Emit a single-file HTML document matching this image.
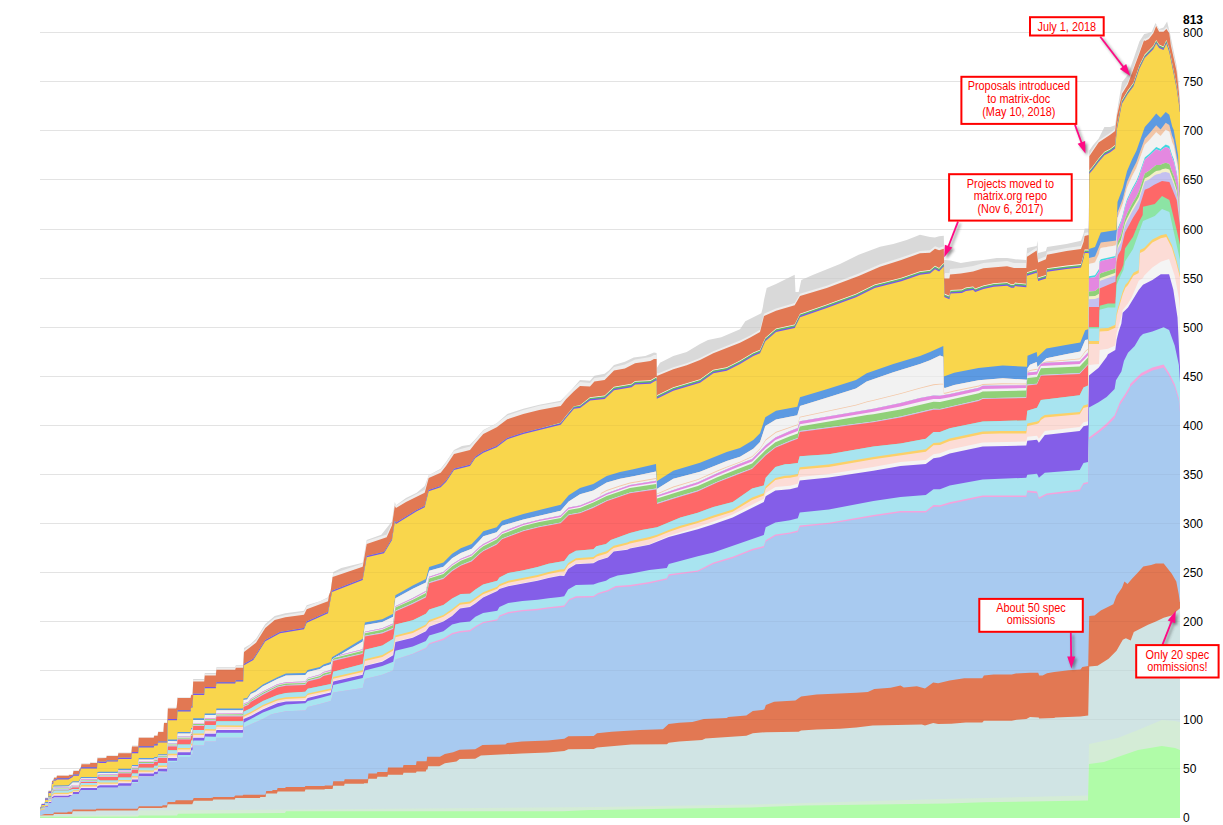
<!DOCTYPE html>
<html><head><meta charset="utf-8"><style>
html,body{margin:0;padding:0;background:#fff;}
body{width:1223px;height:825px;overflow:hidden;}
svg{display:block;}
text{font-family:"Liberation Sans",sans-serif;}
</style></head><body>
<svg width="1223" height="825" viewBox="0 0 1223 825" shape-rendering="crispEdges">
<rect width="1223" height="825" fill="#fff"/>
<g shape-rendering="geometricPrecision">
<rect x="40" y="768" width="1140" height="1" fill="#ececec"/>
<rect x="40" y="719" width="1140" height="1" fill="#ececec"/>
<rect x="40" y="670" width="1140" height="1" fill="#ececec"/>
<rect x="40" y="621" width="1140" height="1" fill="#ececec"/>
<rect x="40" y="572" width="1140" height="1" fill="#ececec"/>
<rect x="40" y="523" width="1140" height="1" fill="#ececec"/>
<rect x="40" y="474" width="1140" height="1" fill="#ececec"/>
<rect x="40" y="425" width="1140" height="1" fill="#ececec"/>
<rect x="40" y="376" width="1140" height="1" fill="#ececec"/>
<rect x="40" y="327" width="1140" height="1" fill="#ececec"/>
<rect x="40" y="278" width="1140" height="1" fill="#ececec"/>
<rect x="40" y="229" width="1140" height="1" fill="#ececec"/>
<rect x="40" y="179" width="1140" height="1" fill="#ececec"/>
<rect x="40" y="130" width="1140" height="1" fill="#ececec"/>
<rect x="40" y="81" width="1140" height="1" fill="#ececec"/>
<rect x="40" y="32" width="1140" height="1" fill="#ececec"/>
<path fill="#d9d9d9" d="M40 806.2 41.5 806.2 41.8 803.2 44.8 803.2 45.2 797.4 48.2 797.4 48.6 790.2 51.6 790.2 52 780.2 53.6 779.9 54 777 56.5 777 57 775 68.5 774.9 69.5 774.1 72.7 774.1 73.5 770.1 78.8 770.1 79.5 768.1 80.6 768.1 81.5 763.3 89.7 763.3 90.5 762.1 97 762.1 97.5 757.3 106.2 757.3 106.8 755.3 117.8 755.3 118.4 752.4 131.4 752.4 132 745.6 138.2 745.6 138.8 736.9 153.7 736.9 154.3 735 157.6 735 158.2 731.1 163.4 731.1 164 722.4 167.3 722.4 167.9 707.8 176.1 707.8 176.7 706.8 177.6 697.1 190.6 697.1 191.2 694.2 192.6 694.2 193.2 678.9 204.2 678.9 204.8 673.1 215.8 673.1 216.4 667.3 235.2 667.3 235.8 665.3 243.2 665.3 244 648 250.7 644 256 638.7 265.3 624 274.7 616 285.3 613.3 304 610.7 306.7 605.3 320 601.3 328 597.3 330.7 590.7 333.3 572 341.3 568 362.7 562.7 366.7 540 381.3 534.7 392 521.3 394.8 502 396 505.3 406 498 416.7 492.7 424.7 486 428.7 475.3 440.7 468.7 446 462 454 450 462 446 470 444.7 475.3 439.3 483.3 430 496.7 423.3 507.3 414 523.3 408.7 539.3 404.7 560.7 400.7 571.3 390 580 380 590 380.8 594.4 375.7 604.6 373.8 608.9 370.6 614 365.1 624.9 361.8 633.7 357.5 645.3 356 654 352.4 656.6 353.1 656.8 368 660 362.7 673.3 356 686.7 352 700 344 708 340 721.3 337.3 740 329.3 745.3 321.3 761.3 313.3 762.7 308 764 300 766.7 288 776 284 794.7 274.7 795.5 292 798.7 292 801.3 280 813.3 274.7 840 264 858.7 254.7 880 246.7 893.3 244 906.7 240 920 234.7 930 237 935 237.4 939.1 236.3 943.8 235.8 944.3 260 950.5 260.5 960.8 263.1 973.1 261.1 983.4 260 996.8 258 1007.1 258 1014 259 1015 259.3 1026.3 259.9 1027 248 1036.7 245.9 1037.5 240.8 1038.1 253.1 1045.9 251.1 1047 247 1066.5 243.9 1081 240.8 1083.6 233.6 1084.6 228.4 1088.8 228.5 1089.3 150.4 1092.8 145.5 1098.6 138.7 1104.4 127.1 1110.2 127.1 1115.1 125.2 1117 111.5 1121.9 82.4 1127.7 74.7 1133.5 59.1 1139.4 41.6 1144.2 33.9 1147.5 33.3 1151.8 31.8 1155.5 23.1 1159.1 28.9 1163.5 27.5 1167.1 21.6 1170 33.3 1176.6 65.3 1178.8 82.8 1179.8 97.4 1180 97.4 L1180 818 L40 818Z"/>
<path fill="#ededed" d="M40 806.5 41.5 806.5 41.8 803.5 44.8 803.5 45.2 797.7 48.2 797.6 48.6 790.4 51.6 790.4 52 780.4 53.6 780.1 54 777.2 56.5 777.2 57 775.2 68.5 775.1 69.5 774.3 72.7 774.3 73.5 770.3 78.8 770.3 79.5 768.3 80.6 768.2 81.5 763.4 89.7 763.4 90.5 762.2 97 762.1 97.5 757.3 106.2 757.3 106.8 755.3 117.8 755.3 118.4 752.4 131.4 752.4 132 745.6 138.2 745.6 138.8 736.9 153.7 736.9 154.3 735 157.6 735 158.2 731.1 163.4 731.1 164 722.4 167.3 722.4 167.9 707.8 176.1 707.8 176.7 706.8 177.6 697.1 190.6 697.1 191.2 694.2 192.6 694.2 193.2 680 204.2 679.9 204.8 674.1 215.8 673.9 216.4 668.1 235.2 667.9 235.8 666 243.2 665.9 244 650.1 256 640.6 265.3 625.8 274.7 617.8 285.3 615 304 612 306.7 606.6 320 601.3 328 597.9 330.7 590.7 333.2 573.5 362.7 563.6 366.7 541 386.7 534.6 392 522.7 394.8 503.4 396 505.4 406 499.4 424.7 489.8 428.7 475.3 431 474 440.7 469.6 446 462.9 454 450.8 470 446.6 475.3 439.9 483.3 430.4 496.7 423.6 507.3 415.5 523.3 410 539.3 405.8 560.7 401.9 566 395.3 574 387.4 580 382.1 590 382.9 594.4 377.9 604.6 376.5 614 366.9 624.9 364.6 635.1 359.4 650.4 357.1 654 354.9 656 354.9 656.6 355.5 656.8 372.8 658 373.5 673.3 367.3 686.7 363.3 700 357.9 713.3 351.2 740 340.5 750.7 335.2 760 329.8 764 313.8 776 308.5 794.7 303.1 800 293.7 826.7 285.7 858.7 273.6 880 264.3 901.3 257.6 920 250.9 930 250.3 935 246.2 939.1 247.7 943.8 246.2 944.3 274.3 945 273.1 949.4 273.1 950 269 960.8 268 973.1 266.1 983.4 263 1007.1 261.1 1014 262.9 1026 263.1 1026.3 263.5 1027 253 1027.5 253.4 1036.7 247.6 1038.1 259.4 1045.9 256.3 1047 251.7 1066.5 248.1 1081 246 1083.6 238.8 1084.6 233.1 1088 232.2 1088.4 232.5 1088.8 233.6 1089.3 154.2 1098.6 140.6 1110.2 132.8 1115.1 129 1117 113.4 1121.9 92.1 1127.7 82.4 1139.4 51.3 1144.2 37.7 1144.6 39.3 1148.9 37.1 1153.3 31.3 1156.2 24.3 1159.1 29.8 1163.5 29.8 1166.4 26.9 1169.3 31.3 1170.8 43 1176.6 69.2 1178.8 89.5 1179.8 102.7 1180 102.7 L1180 818 L40 818Z"/>
<path fill="#e27853" d="M40 807 41.5 807 41.8 804 44.8 804 45.2 798.2 48.2 798.2 48.6 791 51.6 791 52 781 53.6 780.7 54 777.8 56.5 777.8 57 775.8 68.5 775.8 69.5 775 72.7 775 73.5 771 78.8 771 79.5 769 80.6 769 81.5 764.2 89.7 764.2 90.5 763 97 763 97.5 758.2 106.2 758.1 106.8 756.1 117.8 756.1 118.4 753.2 131.4 753.2 132 746.4 138.2 746.4 138.8 737.7 153.7 737.7 154.3 735.8 157.6 735.8 158.2 731.9 163.4 731.9 164 723.1 167.3 723.1 167.9 708.6 176.1 708.6 176.7 707.6 177.6 697.9 190.6 697.9 191.2 695 192.6 695 193.2 681.4 204.2 681.4 204.8 675.6 215.8 675.6 216.4 669.8 235.2 669.8 235.8 667.8 243.2 667.8 244 652 256 642.7 265.3 628 274.7 620 285.3 617.3 304 614.7 306.7 609.3 328 601.3 329 595.3 330.7 590.7 332.6 577.1 362.7 566.7 366.7 544 386.7 537.3 392 525.3 394.8 506 396 508 406 502 424.7 492.7 428.7 478 440.7 472.7 446 466 454 454 470 450 475.3 443.3 483.3 434 496.7 427.3 507.3 419.3 523.3 414 539.3 410 560.7 406 566 399.3 574 391.3 580 385.9 590 386.6 594.4 381.5 604.6 380 614 370.6 624.9 368.4 635.1 363.3 650.4 361.1 654 358.9 656.6 358.9 656.8 376 673.3 369.3 686.7 365.3 700 360 713.3 353.3 740 342.7 750.7 337.3 760 332 764 316 776 310.7 794.7 305.3 800 296 826.7 288 858.7 276 880 266.7 901.3 260 920 253.3 930 252.7 935 248.7 939.1 250.2 943.8 248.7 944.3 278.6 949.4 278.6 950 274.5 960.8 273.4 973.1 271.4 983.4 268.3 1007.1 266.2 1014 268 1026.3 268.1 1027 256.8 1036.7 250.6 1038.1 262.4 1045.9 259.3 1047 254.7 1066.5 251.1 1081 249 1083.6 241.8 1084.6 236.1 1088.4 235.1 1088.8 235.8 1089.3 156.2 1098.6 142.6 1110.2 134.8 1115.1 131 1117 115.4 1121.9 94.1 1127.7 84.4 1139.4 53.3 1144.2 39.7 1144.6 41.3 1148.9 39.1 1153.3 33.3 1156.2 26 1159.1 31.8 1163.5 31.8 1166.4 28.9 1169.3 33.3 1170.8 45 1176.6 71.2 1178.8 91.5 1179.8 104.7 1180 104.7 L1180 818 L40 818Z"/>
<path fill="#fbfbf0" d="M40 807 41.5 807 41.8 804 44.8 804 45.2 798.5 48.2 798.5 48.6 791.8 51.6 791.8 52 782.7 53.3 782.4 53.9 779.4 56 779.4 57 778.2 68.5 778.2 72.7 775.8 73.5 774.6 78.8 774.6 81 767.3 97 767.3 97.5 761.2 100 761.7 106.2 761.7 106.8 760.4 117.8 760.4 118.4 757.8 131.4 757.8 132 752 138.2 752 138.8 746.2 153.7 746.2 154.3 744.3 157.6 744.3 158.2 741.4 167.3 741.4 167.9 719 177 719 177.6 710.3 190.6 710.3 191.2 706.4 192.6 706.4 193.2 693.8 204.2 693.8 204.8 687 215.8 687 216.4 682.2 235.2 682.2 235.8 680.2 243.2 680.2 244 664.1 253.3 658.8 265.3 640.1 280 632.1 304 628.1 306.7 621.5 328 612.1 332 590.8 362.7 578.8 366.7 556.1 384 552.1 392 538.8 394.8 520.8 396 522.8 416.7 510.1 424.7 506.1 428.7 490.1 440.7 486.1 446 480.8 454 468.8 470 464.8 475.3 456.8 483.3 451.5 496.7 446.1 507.3 438.1 523.3 432.8 540 428.6 560.7 422.7 566 415.8 574 406.2 580 405.3 590 397.3 604.6 395.4 614 386.7 631.5 383.8 635.1 380.9 650.4 380.2 655.5 377.3 656.6 376.9 656.8 395.2 673.3 387.2 700 379.2 713.3 369.8 726.7 367.2 740 360.5 753.3 352.5 760 349.8 765.3 337.8 776 328.5 794.7 324.5 800 313.8 826.7 304.5 856 293.8 874.7 284.5 901.3 277.8 920 271.2 930 269.9 935 265.8 939.1 267.9 943.8 262.7 944.3 293.6 949.4 295.7 950.5 290 961.8 289.5 965.9 287.4 973.1 286.4 975.2 288.5 983.4 285.4 993.7 283.3 1007.1 282.3 1011.2 284.3 1014 284.3 1015 282.6 1026.3 283.7 1027 272.3 1036.7 269.2 1038.1 277.5 1045.9 274.9 1047 268.2 1066.5 265.6 1081 264.1 1083.6 254.8 1084.6 249.6 1088.4 249.6 1088.8 250.4 1089.3 170.2 1092.8 166.3 1098.6 158.5 1104.4 151.7 1110.2 148.8 1115.1 144.9 1117 125.5 1121.9 100.3 1127.7 90.6 1133.5 82.8 1139.4 65.3 1144.2 55.6 1144.6 54.6 1153.3 45.8 1156.2 40 1159.1 44.4 1163.5 46.5 1166.4 40 1169.3 48.7 1176.6 85.1 1178.8 99.7 1179.8 108.4 1180 108.4 L1180 818 L40 818Z"/>
<path fill="#62b866" d="M40 807 41.5 807 41.8 804 44.8 804 45.2 798.5 48.2 798.5 48.6 791.8 51.6 791.8 52 782.7 53.3 782.4 53.9 779.4 56 779.4 57 778.2 68.5 778.2 72.7 775.8 73.5 774.6 78.8 774.6 81 767.3 97 767.3 97.5 761.2 100 761.7 106.2 761.7 106.8 760.4 117.8 760.4 118.4 757.8 131.4 757.8 132 752 138.2 752 138.8 746.2 153.7 746.2 154.3 744.3 157.6 744.3 158.2 741.4 167.3 741.4 167.9 719 177 719 177.6 710.3 190.6 710.3 191.2 706.4 192.6 706.4 193.2 693.8 204.2 693.8 204.8 687 215.8 687 216.4 682.2 235.2 682.2 235.8 680.2 243.2 680.2 244 664.1 253.3 658.8 265.3 640.1 280 632.1 304 628.1 306.7 621.5 328 612.1 332 590.8 362.7 578.8 366.7 556.1 384 552.1 392 538.8 394.8 520.8 396 522.8 416.7 510.1 424.7 506.1 428.7 490.1 440.7 486.1 446 480.8 454 468.8 470 464.8 475.3 456.8 483.3 451.5 496.7 446.1 507.3 438.1 523.3 432.8 540 428.6 560.7 423 566 416.2 574 406.6 580 405.8 590 398 604.6 396.2 614 387.5 631.5 384.6 635.1 381.7 650.4 381 655.5 378.1 656.6 377.7 656.8 396 673.3 388 700 380 713.3 370.6 726.7 368 740 361.3 753.3 353.3 760 350.6 765.3 338.6 776 329.3 794.7 325.3 800 314.6 826.7 305.3 856 294.6 874.7 285.3 901.3 278.6 920 272 930 270.7 935 266.6 939.1 268.7 943.8 263.5 944.3 294.4 949.4 296.5 950.5 290.8 961.8 290.3 965.9 288.2 973.1 287.2 975.2 289.3 983.4 286.2 993.7 284.1 1007.1 283.1 1011.2 285.1 1014 285.1 1015 283.4 1026.3 284.5 1027 273.1 1036.7 270 1038.1 278.3 1045.9 275.7 1047 269 1066.5 266.4 1081 264.9 1083.6 255.6 1084.6 250.4 1088.4 250.4 1088.8 251.2 1089.3 171 1092.8 167.1 1098.6 159.3 1104.4 152.5 1110.2 149.6 1115.1 145.8 1117 126.3 1121.9 101.1 1127.7 91.4 1133.5 83.6 1139.4 66.1 1144.2 56.4 1144.6 55.4 1153.3 46.6 1156.2 40.8 1159.1 45.2 1163.5 47.3 1166.4 40.8 1169.3 49.5 1176.6 85.9 1178.8 100.5 1179.8 109.2 1180 109.2 L1180 818 L40 818Z"/>
<path fill="#7652f2" d="M40 807 41.5 807 41.8 804 44.8 804 45.2 798.5 48.2 798.5 48.6 791.8 51.6 791.8 52 782.7 53.3 782.4 53.9 779.4 56 779.4 57 778.2 68.5 778.2 72.7 775.8 73.5 774.6 78.8 774.6 81 767.3 97 767.3 97.5 761.2 100 761.7 106.2 761.7 106.8 760.4 117.8 760.4 118.4 757.8 131.4 757.8 132 752 138.2 752 138.8 746.2 153.7 746.2 154.3 744.3 157.6 744.3 158.2 741.4 167.3 741.4 167.9 719 177 719 177.6 710.3 190.6 710.3 191.2 706.4 192.6 706.4 193.2 693.8 204.2 693.8 204.8 687 215.8 687 216.4 682.2 235.2 682.2 235.8 680.2 243.2 680.2 244 664.1 253.3 658.8 265.3 640.1 280 632.1 304 628.1 306.7 621.5 328 612.1 332 590.8 362.7 578.8 366.7 556.1 384 552.1 392 538.8 394.8 520.8 396 522.8 416.7 510.1 424.7 506.1 428.7 490.1 440.7 486.1 446 480.8 454 468.8 470 464.8 475.3 456.8 483.3 451.5 496.7 446.1 507.3 438.1 523.3 432.8 560.7 423.5 566 416.8 574 407.5 580 406.8 590 399.2 604.6 397.8 614 389 631.5 386.1 635.1 383.2 650.4 382.5 655.5 379.6 656.6 379.2 656.8 397.5 673.3 389.5 700 381.5 713.3 372.1 726.7 369.5 740 362.8 753.3 354.8 760 352.1 765.3 340.1 776 330.8 794.7 326.8 800 316.1 826.7 306.8 856 296.1 874.7 286.8 901.3 280.1 920 273.5 930 272.2 935 268.1 939.1 270.2 943.8 265 944.3 295.9 949.4 298 950.5 292.3 961.8 291.8 965.9 289.7 973.1 288.7 975.2 290.8 983.4 287.7 993.7 285.6 1007.1 284.6 1011.2 286.6 1014 286.6 1015 284.9 1026.3 286 1027 274.6 1036.7 271.5 1038.1 279.8 1045.9 277.2 1047 270.5 1066.5 267.9 1081 266.4 1083.6 257.1 1084.6 251.9 1088.4 251.9 1088.8 252.8 1089.3 172.5 1092.8 168.6 1098.6 160.8 1104.4 154 1110.2 151.1 1115.1 147.2 1117 127.8 1121.9 102.6 1127.7 92.9 1133.5 85.1 1139.4 67.6 1144.2 57.9 1144.6 56.9 1153.3 48.1 1156.2 42.3 1159.1 46.7 1163.5 48.8 1166.4 42.3 1169.3 51 1176.6 87.4 1178.8 102 1179.8 110.7 1180 110.7 L1180 818 L40 818Z"/>
<path fill="#f9d64c" d="M40 807.6 41.5 807.5 41.8 805 44.8 805 45.2 799.7 48.2 799.7 48.6 793 51.6 793 52 783.9 53.3 783.6 53.6 780.7 56 780.6 57 779.4 68.5 779.4 72.7 777 73.5 775.8 78.8 775.8 81 768.5 97 768.5 97.5 762.4 100 762.9 106.2 762.9 106.8 761.6 117.8 761.6 118.4 759 131.4 759 132 753.2 138.2 753.2 138.8 747.4 153.7 747.4 154.3 745.5 157.6 745.5 158.2 742.6 167.3 742.6 167.9 720.2 177 720.2 177.6 711.5 190.6 711.5 191.2 707.6 192.6 707.6 193.2 695 204.2 695 204.8 688.2 215.8 688.2 216.4 683.4 235.2 683.4 235.8 681.4 243.2 681.4 244 665.3 253.3 660 265.3 641.3 280 633.3 304 629.3 306.7 622.7 328 613.3 332 592 362.7 580 366.7 557.3 384 553.3 392 540 394.8 522 396 524 416.7 511.3 424.7 507.3 428.7 491.3 440.7 487.3 446 482 454 470 470 466 475.3 458 483.3 452.7 496.7 447.3 507.3 439.3 523.3 434 560.7 424.7 566 418 574 408.7 580 408 590 400.4 604.6 398.9 614 390.2 631.5 387.3 635.1 384.4 650.4 383.7 655.5 380.8 656.6 380.4 656.8 398.7 673.3 390.7 700 382.7 713.3 373.3 726.7 370.7 740 364 753.3 356 760 353.3 765.3 341.3 776 332 794.7 328 800 317.3 826.7 308 856 297.3 874.7 288 901.3 281.3 920 274.7 930 273.4 935 269.3 939.1 271.4 943.8 266.2 944.3 297.1 949.4 299.2 950.5 293.5 961.8 293 965.9 290.9 973.1 289.9 975.2 292 983.4 288.9 993.7 286.8 1007.1 285.8 1011.2 287.8 1014 287.8 1015 286.1 1026.3 287.2 1027 275.8 1036.7 272.7 1038.1 281 1045.9 278.4 1047 271.7 1066.5 269.1 1081 267.6 1083.6 258.3 1084.6 253.1 1088.4 253.1 1088.8 253.9 1089.3 173.7 1092.8 169.8 1098.6 162 1104.4 155.2 1110.2 152.3 1115.1 148.4 1117 129 1121.9 103.8 1127.7 94.1 1133.5 86.3 1139.4 68.8 1144.2 59.1 1144.6 58.1 1153.3 49.3 1156.2 43.5 1159.1 47.9 1163.5 50 1166.4 43.5 1169.3 52.2 1176.6 88.6 1178.8 103.2 1179.8 111.9 1180 111.9 L1180 818 L40 818Z"/>
<path fill="#5c9ae2" d="M40 808.6 41.5 808.5 41.8 806.8 44.8 806.6 45.2 802.1 48.2 802.1 48.6 796.3 51.6 796.3 52 788.8 53.3 788.5 53.6 785.5 68.5 785.2 72.7 781.2 78.8 781.2 81 777 97 777 97.5 771.9 100 771.7 117.8 771.7 118.4 768.8 131.4 768.8 132 764.9 138.2 764.9 138.8 758.1 153.7 758.1 154.3 757.1 157.6 757.1 158.2 754.2 167.3 754.2 167.9 739.6 177 739.6 177.6 731.9 190.6 731.9 191.2 728 192.6 728 193.2 718.3 204.2 718.3 204.8 713.5 215.8 713.5 216.4 708.6 242.6 708.6 243.2 707.6 243.5 698.5 247.1 697.9 250.8 692.4 255.6 690 262.9 684.5 277.4 677.3 285.9 673.6 305.3 673 307.7 670 319.9 667 323.5 664.5 330.8 662.1 332 657.3 362.7 638.8 364.9 622.5 382.3 619.2 393.2 613.7 395.4 595.2 412.8 585.4 425.9 578.9 429.2 566.9 443.4 562.5 452.1 553.8 460.8 548.3 471.7 544 480 535.3 483.3 531.3 496.7 527.3 502 520.7 523.3 514 560.7 504.7 568.7 495.3 580 488 593.3 484 606.7 476 620 472 633.3 469.3 656 464 656.8 481.3 673.3 470.7 700 462.7 726.7 452 740 448 753.3 440 760 433.3 765.3 417.3 776 410.7 797.3 406.7 800 397.3 826.7 389.3 856 380 866.7 373.3 893.3 364 920 356 930 352.1 943.3 346.1 943.8 376.4 954.2 372.8 978.5 367.9 1002.7 365.5 1027 366.7 1027.5 355.8 1036.7 352.1 1037.4 357 1046.4 348.5 1065.8 344.9 1080.3 342.4 1085.2 330.3 1088.8 329.1 1089 249 1095 247 1100.8 232.4 1116.5 230 1117.5 202 1122.8 188 1127 171.2 1132.1 159.3 1136.4 150.8 1144.8 127.1 1150.4 120.7 1156.2 113.4 1160.6 117.8 1165.7 111.9 1169.3 114.8 1172.2 126.5 1173.7 130.1 1178.1 155.6 1179.8 199.3 1180 199.3 L1180 818 L40 818Z"/>
<path fill="#f2c6a8" d="M40 809.8 41.5 809.7 41.8 808 44.8 807.8 45.2 803.3 48.2 803.3 48.6 797.6 51.6 797.6 52 790 53.3 789.7 53.6 786.7 68.5 786.5 72.7 782.5 78.8 782.5 81 778.3 97 778.3 97.5 773.2 100 773 117.8 773 118.4 770.1 131.4 770.2 132 766.3 138.2 766.3 138.8 759.5 153.7 759.5 154.3 758.6 157.6 758.6 158.2 755.7 167.3 755.7 167.9 741.1 177 741.2 177.6 733.4 190.6 733.4 191.2 729.5 192.6 729.6 193.2 719.9 204.2 719.9 204.8 715 215.8 715.1 216.4 710.2 242.6 710.3 243.2 709.3 243.5 700.1 247.1 699.6 250.8 694.1 255.6 691.7 262.9 686.3 277.4 679 285.9 675.4 305.3 674.9 307.7 671.9 319.9 669 323.5 666.6 330.8 664.3 332 659.5 362.7 641.4 364.9 625 382.3 622 393.2 616.7 395.4 598.2 412.8 588.8 425.9 582.6 429.2 570.7 443.4 566.8 452.1 558.3 460.8 552.9 471.7 548.7 480 540.1 483.3 536.2 496.7 532.3 502 525.7 523.3 519.4 560.7 510.7 568.7 501.4 580 494.2 593.3 490.4 606.7 482.6 620 478.8 633.3 476.2 656 471.5 656.8 488.9 673.3 478.8 700 471.7 726.7 460.9 740 456.8 753.3 448.8 760 442.1 765.3 426.1 776 419.4 797.3 415.3 800 405.9 826.7 397.8 856 388.4 866.7 381.6 893.3 372.2 920 364.1 930 360.2 940 355.6 943.3 356.8 943.8 387.5 945 388 954.2 384.9 978.5 380.3 1002.7 378.2 1027 379.7 1027.5 368.3 1030 364.8 1036.7 362 1037.4 366.9 1046.4 358.2 1065.8 354.2 1080.3 351.5 1085.2 340 1088 339.4 1088.8 338.3 1089 258 1095 256.5 1100.8 242.4 1116.5 240.6 1117.5 212.6 1122.8 198.8 1127 182.1 1132.1 170.4 1136.4 162.1 1144.8 138.6 1150.4 132.3 1156.2 125.3 1160.6 129.6 1165.7 122.8 1169.3 125 1172.2 136.1 1173.7 139.4 1178.1 164 1179.8 207.4 1180 207.3 L1180 818 L40 818Z"/>
<path fill="#f2f2f2" d="M40 809.8 41.5 809.7 41.8 808 44.8 807.8 45.2 803.3 48.2 803.3 48.6 797.6 51.6 797.6 52 790 53.3 789.7 53.6 786.7 68.5 786.5 72.7 782.5 78.8 782.5 81 778.3 97 778.3 97.5 773.2 100 773 117.8 773 118.4 770.1 131.4 770.2 132 766.3 138.2 766.3 138.8 759.5 153.7 759.5 154.3 758.6 157.6 758.6 158.2 755.7 167.3 755.7 167.9 741.1 177 741.2 177.6 733.4 190.6 733.4 191.2 729.5 192.6 729.6 193.2 719.9 204.2 719.9 204.8 715 215.8 715.1 216.4 710.2 242.6 710.3 243.2 709.3 243.5 700.1 247.1 699.6 250.8 694.1 255.6 691.7 262.9 686.3 277.4 679 285.9 675.4 305.3 674.9 307.7 671.9 319.9 669 323.5 666.6 330.8 664.3 332 659.5 362.7 641.4 364.9 625 382.3 622 393.2 616.7 395.4 598.2 412.8 588.8 425.9 582.6 429.2 570.7 443.4 566.8 452.1 558.3 460.8 552.9 471.7 548.7 480 540.1 483.3 536.2 496.7 532.3 502 525.7 523.3 519.4 560.7 510.7 568.7 501.4 580 494.3 593.3 490.4 606.7 482.6 620 478.8 633.3 476.2 656 471.5 656.8 488.9 673.3 478.8 700 471.7 726.7 460.9 740 456.8 753.3 448.8 760 442.1 765.3 426.1 776 419.4 797.3 415.3 800 405.9 826.7 397.8 856 388.4 866.7 381.6 893.3 372.2 920 364.1 930 360.2 940 355.6 943.3 356.8 943.8 387.5 945 388 954.2 384.9 978.5 380.3 1002.7 378.2 1027 379.7 1027.5 368.3 1030 364.8 1036.7 362 1037.4 366.9 1046.4 358.2 1065.8 354.2 1080.3 351.5 1085.2 340 1088 339.4 1088.8 338.3 1089 263.9 1095 262.6 1099 254.1 1099.6 250.5 1100.8 247.9 1115.5 245.6 1116.5 243.1 1117.5 218 1122.8 204 1127 187.7 1132.1 176.3 1136.4 168.1 1144.8 144.8 1150.4 138.9 1156.2 132.3 1160.6 135.9 1165.7 129.8 1169.3 131.8 1172.2 142.4 1173.7 145.8 1178.1 169.6 1179.8 209.4 1180 209.6 L1180 818 L40 818Z"/>
<path fill="#f4c8a8" d="M40 809.8 41.5 809.7 41.8 808 44.8 807.8 45.2 803.3 48.2 803.3 48.6 797.6 51.6 797.6 52 790 53.3 789.7 53.6 787.8 56 787.4 68.5 787.4 72.7 784.9 78.8 784.9 81 779.3 97 779.3 97.5 773.7 100 774.4 117.8 774.3 118.4 770.8 131.4 770.8 132 766.9 138.2 766.8 138.8 761 153.7 761 154.3 759 157.6 759 158.2 755.7 167.3 755.7 167.9 743.4 177 743.4 177.6 736.6 190.6 736.6 191.2 732.7 192.6 732.7 193.2 723 204.2 722.9 204.8 718.1 215.8 718 216.4 713.2 242.6 713.1 243.2 712.1 243.5 703.7 248.3 701.8 250.8 698.8 262.9 691.5 277.4 684.2 285.9 682.3 305.3 681.5 307.7 677.9 319.9 674.6 323.5 672.1 330.8 670.1 332.6 659.9 333 658.8 339 655.3 362.7 649.3 364.9 631.8 382.3 628.2 393.2 623.6 395.4 606.2 412.8 598 425.9 591.1 429.2 576.8 443.4 572.1 452.1 564.2 460.8 558.7 471.7 554.3 480 546.6 483.3 544.1 496.7 537.3 502 531.9 523.3 523.8 539.3 519.7 560.7 515.5 568.7 507.4 580 505.4 593.3 499.9 600 496.5 601 493 606.7 490 620 485.6 630 482.5 656 478.1 657.1 493.4 673.3 486.6 697.8 479.2 717.2 470.6 726.7 466.7 740 461.7 752.1 456.2 760 448.4 765.7 439.5 776 431.8 797.3 424.4 797.8 423.8 799.7 417 800 416.7 856 404.7 866.7 401.4 873.4 399.9 900.5 393.2 920 387.7 933.5 384.3 940 383.7 943.3 383.7 943.8 392.8 945 392.8 954.2 390.6 978.8 385.5 982.7 384.1 1002.7 383.3 1026.3 383.5 1027 379.7 1027.5 371.3 1030 370.1 1036.7 368.8 1037 369.4 1037.4 369.6 1040 364.8 1040.9 363.5 1042 362.8 1046.4 361.4 1079.7 358.4 1080.3 357.9 1085.2 351 1088 348.7 1088.4 338.9 1088.8 338.3 1089 263.9 1095 262.6 1099 254.1 1099.6 250.5 1100.8 247.9 1115.5 245.6 1116.5 243.1 1117.5 218 1122.8 204 1127 187.7 1132.1 176.3 1136.4 168.1 1144.8 144.8 1150.4 138.9 1156.2 132.3 1160.6 135.9 1165.7 129.8 1169.3 131.8 1172.2 142.4 1173.7 145.8 1178.1 169.6 1179.8 209.4 1180 209.6 L1180 818 L40 818Z"/>
<path fill="#f2f2f2" d="M40 809.8 41.5 809.7 41.8 808 44.8 807.8 45.2 803.3 48.2 803.3 48.6 797.6 51.6 797.6 52 790 53.3 789.7 53.6 787.8 56 787.4 68.5 787.4 72.7 784.9 78.8 784.9 81 779.3 97 779.3 97.5 773.7 100 774.4 117.8 774.3 118.4 770.8 131.4 770.8 132 766.9 138.2 766.8 138.8 761 153.7 761 154.3 759 157.6 759 158.2 755.7 167.3 755.7 167.9 743.4 177 743.4 177.6 736.6 190.6 736.6 191.2 732.7 192.6 732.7 193.2 723 204.2 722.9 204.8 718.1 215.8 718 216.4 713.2 242.6 713.1 243.2 712.1 243.5 703.7 248.3 701.8 250.8 698.8 262.9 691.5 277.4 684.2 285.9 682.3 305.3 681.5 307.7 677.9 319.9 674.6 323.5 672.1 330.8 670.1 332.6 659.9 333 658.8 339 655.3 362.7 649.3 364.9 631.8 382.3 628.2 393.2 623.6 395.4 606.2 412.8 598 425.9 591.1 429.2 576.8 443.4 572.1 452.1 564.2 460.8 558.7 471.7 554.3 480 546.6 483.3 544.1 496.7 537.3 502 531.9 523.3 523.8 539.3 519.7 560.7 515.5 568.7 507.4 580 505.4 593.3 499.9 600 496.5 601 493.9 606.7 490.9 620 486.5 630 483.4 656 479 657.1 494.3 673.3 487.5 697.8 480.1 717.2 471.5 726.7 467.6 740 462.6 752.1 457.1 760 449.3 765.7 440.4 776 432.7 797.3 425.3 797.8 424.7 799.7 417.9 800 417.6 856 405.6 866.7 402.3 873.4 400.8 900.5 394.1 920 388.6 933.5 385.2 940 384.6 943.3 384.6 943.8 393.7 945 393.7 954.2 391.5 978.8 386.4 982.7 385 1002.7 384.2 1026.3 384.4 1027 379.7 1027.5 372.2 1030 371 1036.7 369.7 1037 370.3 1037.4 370.5 1040.9 364 1046.4 362.3 1079.7 359.3 1080.3 358.8 1085.2 351.9 1088 349.6 1088.4 338.9 1088.8 338.3 1089 263.9 1095 262.6 1099 254.1 1099.6 250.5 1100.8 247.9 1115.5 245.6 1116.5 243.1 1117.5 218 1122.8 204 1127 187.7 1132.1 176.3 1136.4 168.1 1144.8 144.8 1150.4 138.9 1156.2 132.3 1160.6 135.9 1165.7 129.8 1169.3 131.8 1172.2 142.4 1173.7 145.8 1178.1 169.6 1179.8 209.4 1180 209.6 L1180 818 L40 818Z"/>
<path fill="#40d8e0" d="M40 809.8 41.5 809.7 41.8 808 44.8 807.8 45.2 803.3 48.2 803.3 48.6 797.6 51.6 797.6 52 790 53.3 789.7 53.6 787.8 56 787.4 68.5 787.4 72.7 784.9 78.8 784.9 81 779.3 97 779.3 97.5 773.7 100 774.4 117.8 774.3 118.4 770.8 131.4 770.8 132 766.9 138.2 766.8 138.8 761 153.7 761 154.3 759 157.6 759 158.2 755.7 167.3 755.7 167.9 743.4 177 743.4 177.6 736.6 190.6 736.6 191.2 732.7 192.6 732.7 193.2 723 204.2 722.9 204.8 718.1 215.8 718 216.4 713.2 242.6 713.1 243.2 712.1 243.5 703.7 248.3 701.8 250.8 698.8 262.9 691.5 277.4 684.2 285.9 682.3 305.3 681.5 307.7 677.9 319.9 674.6 323.5 672.1 330.8 670.1 332.6 659.9 333 658.8 339 655.3 362.7 649.3 364.9 631.8 382.3 628.2 393.2 623.6 395.4 606.2 412.8 598 425.9 591.1 429.2 576.8 443.4 572.1 452.1 564.2 460.8 558.7 471.7 554.3 480 546.6 483.3 544.1 496.7 537.3 502 531.9 523.3 523.8 539.3 519.7 560.7 515.5 568.7 507.4 580 505.4 593.3 499.9 606.7 493.2 630 484.9 656.2 480.8 657.1 495.4 678.5 488.3 697.8 482.2 717.2 473.2 736.6 465.1 752.1 459.1 765.7 445.3 775.4 437.4 790 431.1 797.8 428.1 799.7 421.3 873.4 408.8 900.5 403.1 920 397.9 933.5 395.4 940 395.8 950 394 978.8 387.7 982.7 385.8 1026.3 385.2 1027 379.7 1027.5 372.6 1037 371.7 1040.9 364 1044.8 362.8 1079.7 361.3 1088 352.6 1088.4 338.9 1088.8 338.3 1089 276.2 1095 275.3 1099 269.1 1099.6 261.3 1100.8 259.2 1115.5 255.9 1116.5 248.5 1117.5 229.1 1118 227.5 1121 220.7 1122.8 214.8 1125 205.7 1127 199.3 1132.1 188.5 1136.4 180.7 1138.9 174.8 1144.8 157.6 1149.1 153.9 1156.2 146.9 1160.6 148.9 1162 147.4 1165.7 144.5 1169.3 146.1 1172.2 155.6 1173.7 159.1 1176.7 172.5 1178.1 181.3 1179.8 213.7 1180 214.2 L1180 818 L40 818Z"/>
<path fill="#f2f2f2" d="M40 809.8 41.5 809.7 41.8 808 44.8 807.8 45.2 803.3 48.2 803.3 48.6 797.6 51.6 797.6 52 790 53.3 789.7 53.6 787.8 56 787.4 68.5 787.4 72.7 784.9 78.8 784.9 81 779.3 97 779.3 97.5 773.7 100 774.4 117.8 774.3 118.4 770.8 131.4 770.8 132 766.9 138.2 766.8 138.8 761 153.7 761 154.3 759 157.6 759 158.2 755.7 167.3 755.7 167.9 743.4 177 743.4 177.6 736.6 190.6 736.6 191.2 732.7 192.6 732.7 193.2 723 204.2 722.9 204.8 718.1 215.8 718 216.4 713.2 242.6 713.1 243.2 712.1 243.5 703.7 248.3 701.8 250.8 698.8 262.9 691.5 277.4 684.2 285.9 682.3 305.3 681.5 307.7 677.9 319.9 674.6 323.5 672.1 330.8 670.1 332.6 659.9 333 658.8 339 655.3 362.7 649.3 364.9 631.8 382.3 628.2 393.2 623.6 395.4 606.2 412.8 598 425.9 591.1 429.2 576.8 443.4 572.1 452.1 564.2 460.8 558.7 471.7 554.3 480 546.6 483.3 544.1 496.7 537.3 502 531.9 523.3 523.8 539.3 519.7 560.7 515.5 568.7 507.4 580 505.4 593.3 499.9 606.7 493.2 630 484.9 656.2 480.8 657.1 495.4 678.5 488.3 697.8 482.2 717.2 473.2 736.6 465.1 752.1 459.1 765.7 445.3 775.4 437.4 790 431.1 797.8 428.1 799.7 421.3 873.4 408.8 900.5 403.1 920 397.9 933.5 395.4 940 395.8 950 394 978.8 387.7 982.7 385.8 1026.3 385.2 1027 379.7 1027.5 372.6 1037 371.7 1040.9 364 1044.8 362.8 1079.7 361.3 1088 352.6 1088.4 338.9 1088.8 338.3 1089 278.1 1095 277.3 1099 271.5 1099.6 263 1100.8 261.1 1115.5 257.5 1116.5 249.3 1117.5 230.9 1118 229.2 1121 222.5 1122.8 216.5 1125 207.4 1127 201.2 1132.1 190.5 1136.4 182.7 1138.9 176.9 1144.8 159.6 1149.1 156.1 1156.2 149.2 1160.6 151 1162 149.6 1165.7 146.9 1169.3 148.4 1172.2 157.8 1173.7 161.2 1176.7 174.2 1178.1 183.2 1179.8 214.4 1180 215 L1180 818 L40 818Z"/>
<path fill="#e488e0" d="M40 809.8 41.5 809.7 41.8 808 44.8 807.8 45.2 803.3 48.2 803.3 48.6 797.6 51.6 797.6 52 790 53.3 789.7 53.6 787.8 56 787.4 68.5 787.4 72.7 784.9 78.8 784.9 81 779.3 97 779.3 97.5 773.7 100 774.4 117.8 774.3 118.4 770.8 131.4 770.8 132 766.9 138.2 766.8 138.8 761 153.7 761 154.3 759 157.6 759 158.2 755.7 167.3 755.7 167.9 743.4 177 743.4 177.6 736.6 190.6 736.6 191.2 732.7 192.6 732.7 193.2 723 204.2 722.9 204.8 718.1 215.8 718 216.4 713.2 242.6 713.1 243.2 712.1 243.5 703.7 248.3 701.8 250.8 698.8 262.9 691.5 277.4 684.2 285.9 682.3 305.3 681.5 307.7 677.9 319.9 674.6 323.5 672.1 330.8 670.1 332.6 659.9 333 658.8 339 655.3 362.7 649.3 364.9 631.8 382.3 628.2 393.2 623.6 395.4 606.2 412.8 598 425.9 591.1 429.2 576.8 443.4 572.1 452.1 564.2 460.8 558.7 471.7 554.3 480 546.6 483.3 544.1 496.7 537.3 502 531.9 523.3 523.8 539.3 519.7 560.7 515.5 568.7 507.4 580 505.4 593.3 499.9 606.7 493.2 630 484.9 656.2 480.8 657.1 495.4 678.5 488.3 697.8 482.2 717.2 473.2 736.6 465.1 752.1 459.1 765.7 445.3 775.4 437.4 790 431.1 797.8 428.1 799.7 421.3 873.4 408.8 900.5 403.1 920 397.9 933.5 395.4 940 395.8 950 394 978.8 387.7 982.7 385.8 1026.3 385.2 1027 379.7 1027.5 372.6 1037 371.7 1040.9 364 1044.8 362.8 1079.7 361.3 1088 352.6 1088.4 338.9 1088.8 338.3 1089 278.1 1095 277.3 1099 271.5 1099.6 263 1100.8 261.1 1115.5 257.5 1116.5 249.3 1117.5 230.9 1118 229.2 1121 222.5 1122.8 216.5 1125 207.4 1127 201.2 1132.1 190.5 1136.4 182.7 1138.9 176.9 1144.8 159.6 1149.1 156.1 1156.2 149.2 1160.6 151 1162 149.6 1165.7 146.9 1169.3 148.4 1172.2 157.8 1173.7 161.2 1176.7 174.2 1178.1 183.2 1179.8 214.4 1180 215 L1180 818 L40 818Z"/>
<path fill="#f2f2f2" d="M40 809.8 41.5 809.7 41.8 808 44.8 807.8 45.2 803.3 48.2 803.3 48.6 797.6 51.6 797.6 52 790.4 53.3 790 53.6 788.3 56 788 68.5 788 72.7 785.4 78.8 785.4 81 779.9 97 779.9 97.5 774.3 100 775 117.8 774.9 118.4 771.4 131.4 771.4 132 767.5 138.2 767.5 138.8 761.6 153.7 761.6 154.3 759.6 157.6 759.6 158.2 755.8 167.3 755.7 167.9 744.1 177 744 177.6 737.2 190.6 737.2 191.2 733.3 192.6 733.3 193.2 723.6 204.2 723.6 204.8 718.7 215.8 718.7 216.4 713.8 242.6 713.8 243.2 712.8 243.5 704.4 248.3 702.5 250.8 699.5 262.9 692.2 277.4 684.9 285.9 683 305.3 682.3 307.7 678.6 319.9 675.3 323.5 672.8 330.8 670.9 333 658.8 337 656.5 362.7 650.1 364.9 632.6 382.3 629 393.2 624.5 395.4 607 412.8 598.9 425.9 592.1 429.2 577.8 443.4 573.1 452.1 565.3 460.8 559.8 471.7 555.4 480 547.7 483.3 545.3 496.7 538.5 502 533.2 523.3 525.1 539.3 521 560.7 516.9 568.7 508.9 580 506.8 593.3 501.4 606.7 494.7 630 486.5 656.2 482.5 657.1 497.1 678.5 490.2 697.8 484.2 717.2 475.4 736.6 467.5 752.1 461.6 765.7 447.9 775.4 440.1 790 434 797.8 431 799.7 424.2 873.4 411.8 900.5 406.6 920 401.7 933.5 398.9 940 399.1 950 397.2 978.8 390.8 982.7 388.9 1026.3 388.1 1027.3 375.5 1037 374.6 1040.9 365.9 1079.7 364.1 1088 355.4 1088.4 338.9 1088.8 338.3 1089 291.4 1095 290.9 1099 287.8 1099.6 274.6 1100.8 273.3 1115.5 268.6 1117.5 243 1118 241 1121 235.1 1125 218.9 1127 213.8 1132.1 203.7 1136.4 196.4 1138.9 191.4 1144.8 173.4 1149.1 170.8 1156.2 165 1160.6 165 1162 164 1165.7 162.7 1169.4 163.9 1172.2 172 1173.7 175.6 1176.7 186 1178.1 195.8 1180 220 L1180 818 L40 818Z"/>
<path fill="#90d078" d="M40 809.8 41.5 809.7 41.8 808 44.8 807.8 45.2 803.3 48.2 803.3 48.6 797.6 51.6 797.6 52 790.8 53.3 790.5 53.6 788.8 56 788.5 68.5 788.4 72.7 785.9 78.8 785.9 81 780.4 97 780.3 97.5 774.7 100 775.4 117.8 775.4 118.4 771.9 131.4 771.9 132 768 138.2 768 138.8 762.1 153.7 762.1 154.3 760.2 157.6 760.1 158.2 756.3 167.3 756.2 167.9 744.6 177 744.6 177.6 737.8 190.6 737.7 191.2 733.9 192.6 733.8 193.2 724.1 204.2 724.1 204.8 719.3 215.8 719.2 216.4 714.4 242.6 714.3 243.2 713.3 243.5 704.9 248.3 703.1 250.8 700.1 262.9 692.7 277.4 685.4 285.9 683.6 305.3 682.9 307.7 679.2 319.9 675.9 323.5 673.4 330.8 671.5 333.2 658.7 335 657.7 362.7 650.7 364.9 633.3 382.3 629.7 393.2 625.1 395.4 607.6 412.8 599.7 425.9 592.9 429.2 578.6 443.4 574 452.1 566.2 460.8 560.8 471.7 556.4 480 548.7 483.3 546.2 496.7 539.6 502 534.2 523.3 526.1 539.3 522.1 560.7 518.1 568.7 510 580 508 593.3 502.6 606.7 495.9 630 487.9 656.2 483.9 657.1 498.5 678.5 491.7 697.8 485.9 717.2 477.2 736.6 469.4 752.1 463.6 765.7 450.1 775.4 442.3 790 436.3 797.8 433.4 799.7 426.6 867 415.1 873.4 414.3 900.5 409.5 933.5 401.8 940 401.9 978.8 393.3 982.7 391.4 1026.3 390.5 1027.3 377.9 1037 376.9 1040.9 368.2 1079.7 366.4 1088 357.6 1088.4 338.9 1088.8 338.3 1089 291.4 1095 290.9 1099 287.8 1099.6 274.6 1100.8 273.3 1115.5 268.6 1117.5 243 1118 241 1121 235.1 1125 218.9 1127 213.8 1132.1 203.7 1136.4 196.4 1138.9 191.4 1144.8 173.4 1149.1 170.8 1156.2 165 1160.6 165 1162 164 1165.7 162.7 1169.4 163.9 1172.2 172 1173.7 175.6 1176.7 186 1178.1 195.8 1180 220 L1180 818 L40 818Z"/>
<path fill="#f4f0c8" d="M40 809.8 41.5 809.7 41.8 808 44.8 807.8 45.2 803.3 48.2 803.3 48.6 797.9 51.6 797.9 52 791.5 53.3 791.1 53.6 789.4 56 789.1 68.5 789.1 72.7 786.6 78.8 786.6 81 781.1 97 781.1 97.5 775.5 100 776.2 117.8 776.2 118.4 772.7 131.4 772.7 132 768.8 138.2 768.8 138.8 763 153.7 763 154.3 761.1 157.6 761.1 158.2 757.2 167.3 757.2 167.9 745.5 177 745.5 177.6 738.7 190.6 738.7 191.2 734.9 192.6 734.9 193.2 725.2 204.2 725.2 204.8 720.3 215.8 720.3 216.4 715.5 242.6 715.5 243.2 714.5 243.5 706.1 248.3 704.2 250.8 701.2 262.9 694 277.4 686.7 285.9 684.9 305.3 684.2 307.7 680.6 319.9 677.6 323.5 675.2 330.8 673.3 333.2 660 362.7 653.2 364.9 635.7 382.3 632.5 393.2 628.1 395.4 610.7 412.8 603 425.9 596.5 429.2 582.3 443.4 578 452.1 570.3 460.8 564.9 471.7 560.5 480 552.9 483.3 550.4 496.7 543.8 502 538.4 523.3 530.4 539.3 526.4 560.7 522.4 568.7 514.4 580 512.4 593.3 507.1 606.7 500.4 630 492.4 656.2 488.5 657.1 503.1 678.5 496.3 697.8 490.5 717.2 481.7 736.6 474 752.1 468.2 765.7 454.6 775.4 446.9 790 440.8 797.8 437.9 799.7 431.1 873.4 421.4 900.5 416.6 933.5 408.8 940 408.9 948.7 406.9 978.8 400.1 982.7 398.2 1026.3 397.2 1027.3 384.6 1037 383.7 1040.9 374.9 1079.7 373 1088 364.2 1088.4 341.4 1088.8 338.3 1089 296.3 1095 296 1099 293.8 1099.6 278.9 1100.8 277.9 1115.5 272.8 1116.5 257.3 1117.5 247.5 1118 245.4 1121 239.8 1125 223.1 1127 218.4 1132.1 208.6 1138.9 196.7 1144.8 178.6 1149.1 176.2 1154.2 172.2 1156.2 170.9 1160.6 170.2 1162 169.3 1165.7 168.6 1169.4 169.5 1173.7 180.9 1176.7 190.4 1178.1 200.4 1180 221.9 L1180 818 L40 818Z"/>
<path fill="#c4c0f0" d="M40 809.8 41.5 809.7 41.8 808 44.8 807.8 45.2 803.3 48.2 803.3 48.6 797.9 51.6 797.9 52 791.5 53.3 791.1 53.6 789.4 56 789.1 68.5 789.1 72.7 786.6 78.8 786.6 81 781.1 97 781.1 97.5 775.5 100 776.2 117.8 776.2 118.4 772.7 131.4 772.7 132 768.8 138.2 768.8 138.8 763 153.7 763 154.3 761.1 157.6 761.1 158.2 757.2 167.3 757.2 167.9 745.5 177 745.5 177.6 738.7 190.6 738.7 191.2 734.9 192.6 734.9 193.2 725.2 204.2 725.2 204.8 720.3 215.8 720.3 216.4 715.5 242.6 715.5 243.2 714.5 243.5 706.1 248.3 704.2 250.8 701.2 262.9 694 277.4 686.7 285.9 684.9 305.3 684.2 307.7 680.6 319.9 677.6 323.5 675.2 330.8 673.3 333.2 660 362.7 653.2 364.9 635.7 382.3 632.5 393.2 628.1 395.4 610.7 412.8 603 425.9 596.5 429.2 582.3 443.4 578 452.1 570.3 460.8 564.9 471.7 560.5 480 552.9 483.3 550.4 496.7 543.8 502 538.4 523.3 530.4 539.3 526.4 560.7 522.4 568.7 514.4 580 512.4 593.3 507.1 606.7 500.4 630 492.4 656.2 488.5 657.1 503.1 678.5 496.3 697.8 490.5 717.2 481.7 736.6 474 752.1 468.2 765.7 454.6 775.4 446.9 790 440.8 797.8 437.9 799.7 431.1 873.4 421.4 900.5 416.6 933.5 408.8 940 408.9 948.7 406.9 978.8 400.1 982.7 398.2 1026.3 397.2 1027.3 384.6 1037 383.7 1040.9 374.9 1079.7 373 1088 364.2 1088.4 341.4 1088.8 338.3 1089 299.2 1095 299 1099 297.5 1099.6 281.5 1100.8 280.6 1115.5 275.2 1116.5 258.6 1117.5 250.2 1118 248 1121 242.6 1125 225.6 1127 221.2 1132.1 211.6 1138.9 199.9 1144.8 181.6 1149.1 179.5 1154.2 175.6 1156.2 174.4 1160.6 173.4 1162 172.5 1165.7 172.1 1169.4 172.9 1173.7 184.1 1176.7 193 1178.1 203.2 1180 223 L1180 818 L40 818Z"/>
<path fill="#fe6868" d="M40 809.8 41.5 809.7 41.8 808.1 44.8 807.8 45.2 803.9 48.2 803.9 48.6 798.8 51.6 798.8 52 792.4 53.3 792 53.6 790.3 56 790 68.5 790 72.7 787.5 78.8 787.5 81 782 97 782 97.5 776.4 100 777.1 117.8 777.1 118.4 773.6 131.4 773.6 132 769.7 138.2 769.7 138.8 763.9 153.7 763.9 154.3 762 157.6 762 158.2 758.1 167.3 758.1 167.9 746.4 177 746.4 177.6 739.6 190.6 739.6 191.2 735.8 192.6 735.8 193.2 726.1 204.2 726.1 204.8 721.2 215.8 721.2 216.4 716.4 242.6 716.4 243.2 715.4 243.5 707 248.3 705.1 250.8 702.1 262.9 694.9 277.4 687.6 285.9 685.8 305.3 685.1 307.7 681.5 319.9 678.5 323.5 676.1 330.8 674.2 333.2 660.9 362.7 654.1 364.9 636.6 382.3 633.4 393.2 629 395.4 611.6 412.8 603.9 425.9 597.4 429.2 583.2 443.4 578.9 452.1 571.2 460.8 565.8 471.7 561.4 480 553.8 483.3 551.3 496.7 544.7 502 539.3 523.3 531.3 539.3 527.3 560.7 523.3 568.7 515.3 580 513.3 593.3 508 606.7 501.3 630 493.3 656.2 489.4 657.1 504 678.5 497.2 697.8 491.4 717.2 482.6 736.6 474.9 752.1 469.1 765.7 455.5 775.4 447.8 790 441.7 797.8 438.8 799.7 432 873.4 422.3 900.5 417.5 933.5 409.7 940 409.8 948.7 407.8 978.8 401 982.7 399.1 1026.3 398.1 1027.3 385.5 1037 384.6 1040.9 375.8 1079.7 373.9 1088 365.1 1088.4 342.3 1088.8 338.3 1089 307.1 1099 307.1 1099.6 288.4 1115.5 281.8 1116.5 262 1118 255 1121 250 1125 232.4 1133 217.8 1138.9 208.5 1144.8 189.8 1149.1 188.1 1154.2 184.8 1162 181 1169.4 182 1176.7 200 1180 226 L1180 818 L40 818Z"/>
<path fill="#8ce4a4" d="M40 809.8 41.5 809.7 41.8 808.2 44.8 807.9 45.2 804.1 48.2 804.1 48.6 799 51.6 799 52 792.7 53.3 792.4 53.6 790.8 56 790.5 68.5 790.5 72.7 789 78.8 789 81 783 97 783 97.5 778.8 100 780.4 117.8 780.4 118.4 777.5 131.4 777.5 132 773.6 138.2 773.6 138.8 767.8 153.7 767.8 154.3 765.8 157.6 765.8 158.2 762.9 167.3 762.9 167.9 750.3 177 750.3 177.6 744.5 190.6 744.5 191.2 740.6 192.6 740.6 193.2 729.9 204.2 729.9 204.8 725.1 215.8 725.1 216.4 721.2 242.6 721.2 243.2 720.2 243.5 711.8 250.8 708.2 262.9 700.9 277.4 694.9 285.9 693 305.3 691.8 307.7 688.8 330.8 683.9 333.2 671.8 362.7 663.9 364.9 649.7 382.3 645.4 393.2 638.8 395.4 624.6 412.8 620.3 425.9 613.7 429.2 609.4 443.4 605 452.1 598.5 460.8 594.1 470 593.8 475.4 589.5 483.1 584.5 497.3 580.7 499.4 577.5 508.2 573.1 522.4 570.4 537.6 567.1 548.5 563.8 564.2 560.9 569.1 554.5 575.9 550.7 593.4 549.2 596.3 546.3 606 543.9 610.8 540 630 533 641.6 530.1 657.1 527.2 680.4 517.5 697.8 512.7 713.4 506.9 732.7 502 752.1 488.5 763.8 485.6 765.7 477.8 775.4 467.1 785.1 464.2 790 464 797.8 463 799.7 456.2 828.8 454.3 873.4 446.6 900.5 443.6 925.8 438.8 933.5 432 940 432.1 949.7 428.2 982.7 421.4 1026.3 420.4 1027.3 410.7 1037 407.8 1040.9 400.1 1079.7 395.2 1083.5 387.5 1088 385.5 1089 327 1099 327 1099.6 305.8 1108 303.4 1115.3 303.4 1116.7 278 1121.4 270 1123.4 264.7 1125 248.4 1133 236.7 1139 222 1142.7 215 1143 206.7 1154.8 204 1162 196 1169.4 200 1176.7 230 1180 245 L1180 818 L40 818Z"/>
<path fill="#a8e4f0" d="M40 809.8 41.5 809.7 41.8 808.2 44.8 807.9 45.2 804.1 48.2 804.1 48.6 799 51.6 799 52 792.7 53.3 792.4 53.6 790.8 56 790.5 68.5 790.5 72.7 789 78.8 789 81 783 97 783 97.5 778.8 100 780.4 117.8 780.4 118.4 777.5 131.4 777.5 132 773.6 138.2 773.6 138.8 767.8 153.7 767.8 154.3 765.8 157.6 765.8 158.2 762.9 167.3 762.9 167.9 750.3 177 750.3 177.6 744.5 190.6 744.5 191.2 740.6 192.6 740.6 193.2 729.9 204.2 729.9 204.8 725.1 215.8 725.1 216.4 721.2 242.6 721.2 243.2 720.2 243.5 711.8 250.8 708.2 262.9 700.9 277.4 694.9 285.9 693 305.3 691.8 307.7 688.8 330.8 683.9 333.2 671.8 362.7 663.9 364.9 649.7 382.3 645.4 393.2 638.8 395.4 624.6 412.8 620.3 425.9 613.7 429.2 609.4 443.4 605 452.1 598.5 460.8 594.1 470 593.8 475.4 589.5 483.1 584.5 497.3 580.7 499.4 577.5 508.2 573.1 522.4 570.4 537.6 567.1 548.5 563.8 564.2 560.9 569.1 554.5 575.9 550.7 593.4 549.2 596.3 546.3 606 543.9 610.8 540 630 533 641.6 530.1 657.1 527.2 680.4 517.5 697.8 512.7 713.4 506.9 732.7 502 752.1 488.5 763.8 485.6 765.7 477.8 775.4 467.1 785.1 464.2 790 464 797.8 463 799.7 456.2 828.8 454.3 873.4 446.6 900.5 443.6 925.8 438.8 933.5 432 940 432.1 949.7 428.2 982.7 421.4 1026.3 420.4 1027.3 410.7 1037 407.8 1040.9 400.1 1079.7 395.2 1083.5 387.5 1088 385.5 1089 328.5 1099 328.5 1099.6 309.8 1108 307.4 1115.3 307.4 1116.7 284.7 1121.4 274 1123.4 270 1125 261.5 1133 249 1143 221 1154.8 216 1162 209 1169.4 212 1180 260 L1180 818 L40 818Z"/>
<path fill="#fcd068" d="M40 809.8 41.5 809.7 41.8 808.8 44.8 808.4 45.2 804.9 48.2 804.9 48.6 800.2 51.6 800.2 52 794.4 53.3 794.1 53.6 792.9 56 792.7 68.5 792.7 69 792.2 72.7 791.5 73 790.3 78.8 790.3 81 785.1 97 785.1 97.5 781.8 100 782.5 117.8 782.5 118.4 780 131.4 780 132 776.1 138.2 776.2 138.8 770.3 153.7 770.4 154.3 768.4 157.6 768.4 158.2 765.5 167.3 765.5 167.9 753.8 177 753.8 177.6 748 190.6 748.1 191.2 743.7 192.6 743.7 193.2 733.5 204.2 733.5 204.8 729.1 215.8 729.2 216.4 725.3 242.6 725.4 243.2 724.4 243.5 715.3 250.8 712 262.9 705 277.4 699 285.9 697.2 305.3 696.4 307.7 693.4 330.8 688.5 333.2 677.1 362.7 670.2 364.9 659.2 382.3 655.1 393.2 648.8 395.4 635.4 412.8 631 425.9 624.4 429.2 620 443.4 614.9 452.1 609 460 602.8 470 601.6 483.1 592.3 497.3 586.8 499.4 584.2 508.2 580.7 537.6 574.9 548.5 571.9 560 569.6 564.2 569.3 568.1 563.3 569.1 562.4 575.9 558.3 593.4 557 596.3 554.7 598.2 553.8 606 551.6 607.9 550.6 610.8 547.9 613.7 545.8 627.3 542.4 630 541.3 649.4 537.1 657.1 534.7 668.8 529.9 680.4 525.8 697.8 520.9 713.4 515.5 732.7 509.5 752.1 497.6 763.8 493.3 765.7 486.4 775.4 477.9 785.1 475.8 790 475.5 797.8 474 799.7 467.2 828.8 464.6 873.4 457 925.8 449.3 933.5 442.9 940 442.5 949.7 438.6 982.7 431.6 1000 431.1 1026.3 431.1 1027.3 423.4 1037 421.6 1038.9 420.7 1040.9 417.4 1044.8 415 1079.7 411.9 1083.5 405.6 1088 404.2 1088.8 341 1099 341 1099.6 328.5 1108 328.1 1115.3 324.8 1116.7 312.8 1118 307.4 1122.7 291.4 1125.4 284.7 1128 282 1133.4 272.7 1138.7 270 1140 250 1144.1 247.9 1152.4 239.5 1160.8 235.3 1166.3 233.9 1171.9 245.1 1176.1 259 1180 274.6 L1180 818 L40 818Z"/>
<path fill="#fcdcd6" d="M40 810.9 41.5 810.7 41.8 810 44.8 809.7 45.2 806.2 48.2 806.2 48.6 801.4 51.6 801.4 52 795.6 53.3 795.3 53.6 794.1 56 793.9 68.5 793.9 69 793.5 72.7 792.7 73 791.5 78.8 791.6 81 786.4 97 786.4 97.5 783.1 100 783.8 117.8 783.8 118.4 781.3 131.4 781.4 132 777.5 138.2 777.5 138.8 771.7 153.7 771.8 154.3 769.8 157.6 769.8 158.2 766.9 167.3 767 167.9 755.2 177 755.3 177.6 749.5 190.6 749.5 191.2 745.2 192.6 745.2 193.2 735 204.2 735 204.8 730.6 215.8 730.7 216.4 726.8 242.6 726.9 243.2 726 243.5 716.9 250.8 713.5 262.9 706.6 277.4 700.6 285.9 698.9 305.3 698.1 307.7 695.1 330.8 690.2 333.2 678.8 362.7 671.9 364.9 660.9 382.3 656.9 393.2 650.6 395.4 637.2 412.8 632.9 425.9 626.3 429.2 621.9 443.4 616.8 452.1 610.9 460 604.7 470 603.6 483.1 594.2 497.3 588.8 499.4 586.2 508.2 582.7 537.6 576.9 548.5 573.9 560 571.7 564.2 571.4 568.1 565.3 569.1 564.4 575.9 560.3 593.4 559.1 596.3 556.8 598.2 555.9 606 553.7 607.9 552.7 610.8 550 613.7 547.9 627.3 544.5 630 543.4 649.4 539.2 657.1 536.8 668.8 532 680.4 528 697.8 523.1 713.4 517.7 732.7 511.7 752.1 499.9 763.8 495.5 765.7 488.6 775.4 480.1 785.1 478.1 790 477.7 797.8 476.2 799.7 469.4 828.8 466.9 873.4 459.3 925.8 451.7 933.5 445.3 940 444.9 949.7 441 982.7 434 1000 433.5 1026.3 433.5 1027.3 425.9 1037 424 1038.9 423.1 1040.9 419.9 1044.8 417.5 1079.7 414.3 1083.5 408.1 1088 406.7 1088.8 343.9 1099 344 1099.6 331.5 1108 331.1 1115.3 327.8 1116.7 315.8 1118 310.4 1122.7 294.4 1125.4 287.7 1128 285 1133.4 275.7 1138.7 273 1140 253 1144.1 250.9 1152.4 242.5 1160.8 238.3 1166.3 236.9 1171.9 248.1 1176.1 262 1180 277.6 L1180 818 L40 818Z"/>
<path fill="#f4f4f4" d="M40 810.9 41.5 810.7 41.8 810 44.8 809.7 45.2 806.2 48.2 806.2 48.6 801.5 51.6 801.5 52 796.5 53.3 796.1 53.6 795.4 68.5 795.4 69 794.6 72.7 794.6 73 791.7 78.8 791.7 81 787.6 97 787.4 97.5 785.5 100 784.8 117.8 784.8 118.4 782.8 131.4 782.8 132 778.9 138.2 778.9 138.8 773.1 153.7 773.1 154.3 771.1 157.6 771.1 158.2 768.2 167.3 768.2 167.9 757.5 177 757.5 177.6 751.7 190.6 751.7 191.2 746.8 192.6 746.8 193.2 737.1 204.2 737.1 204.8 733.2 215.8 733.2 216.4 729.3 242.6 729.3 243.2 728.3 243.5 718.5 250.8 715.4 262.9 708.7 277.4 702.7 285.9 700.8 305.3 700.2 307.7 697.2 319.9 694.2 330.8 691.8 333.2 680.9 362.7 674.2 364.9 665.4 382.3 661.1 393.2 654.6 395.4 641.5 412.8 637.2 425.9 630.6 429.2 626.3 443.4 620.9 452.1 615.4 460 607.9 470 606.4 475.4 603.1 483.1 597.1 497.3 590.6 499.4 588.4 508.2 585.7 537.6 580.2 548.5 577.5 560 575.3 564.2 575.4 568.1 568.6 575.9 563.8 593.4 562.8 598.2 559.9 607.9 557 613.7 551.1 627.3 549.2 630 548 649.4 544.2 668.8 535.7 697.8 527 713.4 521.6 732.7 514.5 763.8 498.8 765.7 493 775.4 487.1 790 485.8 797.8 483.8 799.7 477 828.8 474 873.4 466.9 900.5 461.9 925.8 460 933.5 454.2 940 453.3 949.7 449.4 982.7 442.6 1026.3 441.6 1027.3 436.8 1037 435.8 1038.9 438.7 1044.8 431 1079.7 427.1 1083.5 422.3 1088 421.3 1088.8 365 1099 364 1099.6 350 1108 348.8 1115.3 345.5 1116.7 332.8 1121.4 316.8 1122.7 310.1 1128 303.4 1132 296.7 1138.7 280.7 1143 278 1144.1 275.7 1152.4 267.4 1160.8 261.8 1169.1 259 1174.7 275.7 1178.9 298 1180 309.1 L1180 818 L40 818Z"/>
<path fill="#845ee8" d="M40 810.9 41.5 810.7 41.8 810 44.8 809.7 45.2 806.2 48.2 806.2 48.6 801.9 51.6 801.9 52 796.9 53.3 796.5 53.6 795.8 68.5 795.8 69 795 72.7 795 73 792.1 78.8 792.1 81 788 97 787.9 97.5 786 100 785.2 117.8 785.2 118.4 783.3 131.4 783.3 132 779.4 138.2 779.4 138.8 773.6 153.7 773.6 154.3 771.7 157.6 771.7 158.2 768.8 167.3 768.8 167.9 758.1 177 758.1 177.6 752.3 190.6 752.3 191.2 747.4 192.6 747.4 193.2 737.7 204.2 737.7 204.8 733.8 215.8 733.8 216.4 729.9 242.6 729.9 243.2 729 243.5 719.1 250.8 716.1 262.9 709.4 277.4 703.3 285.9 701.5 305.3 700.9 307.7 697.9 319.9 694.9 330.8 692.4 333.2 681.5 362.7 674.8 364.9 666.1 382.3 661.7 393.2 655.2 395.4 642.1 412.8 637.7 425.9 631.2 429.2 626.8 443.4 621.4 452.1 615.9 460 608.4 470 606.9 475.4 603.6 483.1 597.6 497.3 591.1 499.4 588.9 508.2 586.2 537.6 580.7 548.5 578 560 575.8 564.2 575.9 568.1 569.1 575.9 564.2 593.4 563.3 598.2 560.4 607.9 557.5 613.7 551.6 627.3 549.7 630 548.5 649.4 544.7 668.8 536.9 697.8 529.2 713.4 524.3 732.7 517.5 763.8 502 765.7 496.2 775.4 490.4 790 489.2 797.8 487.3 799.7 480.5 828.8 477.6 873.4 470.8 900.5 465.9 925.8 464 933.5 458.2 940 457.3 949.7 453.4 982.7 446.6 1026.3 445.6 1027.3 440.8 1037 439.8 1038.9 442.7 1044.8 435 1079.7 431.1 1083.5 426.3 1088 425.3 1089 375.6 1098.6 367.7 1106.6 357 1108 354.2 1115.3 350.1 1116.7 339.5 1118.7 331.4 1121.4 323.4 1122.7 312.8 1128 307.4 1138.7 290 1143 284.7 1152.4 279.9 1160.8 274.3 1169.1 274.3 1173.3 289.6 1177.5 317.5 1180 367.6 L1180 818 L40 818Z"/>
<path fill="#a8e4f0" d="M40 810.9 41.5 810.7 41.8 810.2 44.8 809.8 45.2 807 48.2 807 48.6 803 51.6 803 52 798.5 53.3 798.1 54 797.6 68.5 797.6 72.7 795 73 794 78.8 794 81 790 97 790 97.5 788 100 787.5 117.8 787.6 118.4 785.7 131.4 785.8 132 781.9 138.2 781.9 138.8 776.1 153.7 776.2 154.3 774.2 157.6 774.3 158.2 771.3 167.3 771.4 167.9 760.7 177 760.8 177.6 754.9 190.6 755 191.2 750.2 192.6 750.2 193.2 740.5 204.2 740.5 204.8 736.6 215.8 736.7 216.4 732.8 242.6 732.8 243.2 731.9 243.5 722 244 722.5 250.8 719.1 262.9 712.4 277.4 707 285.9 704.5 305.3 703.3 307.7 700.9 319.9 697.9 330.8 694.9 333.2 685.1 362.7 678.1 364.9 670.4 382.3 666.1 393.2 661.7 395.4 650.8 412.8 646.4 425.9 641 429.2 635.5 443.4 631.2 452.1 624.6 460 622.6 470 621.6 475.4 616.7 483.1 612.9 497.3 610.7 499.4 606.9 508.2 603.1 522.4 600.9 537.6 599.8 548.5 598.2 560 597.1 564.2 596.3 568.1 589.5 575.9 585.1 593.4 584.6 598.2 582.7 606 580.7 609.8 578.3 617.6 575.4 630 573.8 649.4 569.9 666.8 567.9 668.8 564.1 697.8 556.3 713.4 552.4 763.8 535 765.7 527.2 775.4 522.4 790 520.2 797.8 518.3 799.7 512.5 828.8 509.6 873.4 500.9 900.5 497 925.8 495 933.5 489.2 940 489.3 949.7 485.4 982.7 479.6 1026.3 477.7 1027.3 474.8 1037 473.8 1038.9 477.7 1044.8 472.8 1079.7 469.9 1083.5 463.1 1088 462.1 1089 407.6 1098.6 402.2 1106.6 396.9 1114.6 389 1116 380.2 1121.4 371.5 1124 360.8 1128 352.8 1134.7 346.1 1140.1 336.8 1143 334.1 1152.4 331.4 1163.6 327.2 1169.1 330 1174.7 345.4 1178.9 364.9 1180 382.6 L1180 818 L40 818Z"/>
<path fill="#f5a2dc" d="M40 810.9 41.5 810.7 41.8 810.2 44.8 809.8 45.2 807 48.2 807 48.6 803 51.6 803 52 798.5 53.6 798 54 797.6 68.5 797.6 72.7 795 73 794 78.8 794 81 790 97 790 97.5 788 117.8 788.2 118.4 786.2 131.4 786.2 132 783.3 138.2 783.3 138.8 776.5 153.7 776.5 154.3 775.2 157.6 775.2 158.2 772.6 167.3 772.6 167.9 762 177 762 177.6 757.1 190.6 757.1 191.2 754.2 192.6 754.2 193.2 745.5 204.2 745.5 204.8 741.6 215.8 741.6 216.4 737.7 242.6 737.7 243.2 735.8 243.5 727.6 262.9 719.1 271.4 714.2 285.9 711.2 305.3 710.6 307.7 707 319.9 703.9 330.8 700.9 333.2 692.4 362.7 687.9 364.9 679.1 382.3 674.8 393.2 670.4 395.4 659.5 412.8 653.7 425.9 647.8 429.2 643.3 443.4 638.6 452.1 633.1 460 631.1 470 630.1 475.4 626.3 483.1 622 497.3 619.2 499.4 615.4 508.2 612.1 522.4 609.9 537.6 608.8 548.5 607.2 564.2 605.6 569.1 599.3 575.9 596.3 593.4 595.9 598.2 592.9 607.9 590 615.6 586.1 630 585 649.4 582 666.8 578.2 668.8 574.3 697.8 570.4 713.4 562.6 732.7 556.8 752.1 549 763.8 546.1 765.7 540.3 775.4 534.5 790 532.4 797.8 530.4 799.7 525.6 828.8 522.7 873.4 514.9 900.5 511 925.8 511 933.5 505.1 940 505.2 949.7 502.3 982.7 495.5 1026.3 495.5 1027.3 490.6 1037 491.6 1038.9 497.4 1046.7 493.5 1079.7 489.6 1083.5 482.9 1088 481.9 1089 437.5 1098.6 430.3 1106.6 423.4 1114.6 415.2 1119.9 401.9 1125.2 393.9 1130 386 1130.1 384.1 1141.3 373 1152.4 367.4 1163.6 364.6 1169.1 373 1174.7 384.1 1178.9 398.1 1180 409.2 L1180 818 L40 818Z"/>
<path fill="#a8caf0" d="M40 810.9 41.5 810.7 41.8 810.2 44.8 809.8 45.2 807 48.2 807 48.6 803 51.6 803 52 798.5 53.6 798 54 797.6 68.5 797.6 72.7 795 73 794 78.8 794 81 790 97 790 97.5 788 117.8 788.2 118.4 786.2 131.4 786.2 132 783.3 138.2 783.3 138.8 776.5 153.7 776.5 154.3 775.2 157.6 775.2 158.2 772.6 167.3 772.6 167.9 762 177 762 177.6 757.1 190.6 757.1 191.2 754.2 192.6 754.2 193.2 745.5 204.2 745.5 204.8 741.6 215.8 741.6 216.4 737.7 242.6 737.7 243.2 735.8 243.5 727.6 262.9 719.1 271.4 714.2 285.9 711.2 305.3 710.6 307.7 707 319.9 703.9 330.8 700.9 333.2 692.4 362.7 687.9 364.9 679.1 382.3 674.8 393.2 670.4 395.4 659.5 412.8 654.1 425.9 648.6 429.2 644.3 443.4 639.9 452.1 634.5 460 632.4 470 631.5 475.4 627.6 483.1 623.3 497.3 620.5 499.4 616.7 508.2 613.5 522.4 611.3 537.6 610.2 548.5 608.5 564.2 606.9 569.1 600.6 575.9 597.7 593.4 597.2 598.2 594.3 607.9 591.4 615.6 587.5 630 586.4 649.4 583.4 666.8 579.6 668.8 575.7 697.8 571.8 713.4 564.1 732.7 558.2 752.1 550.5 763.8 547.6 765.7 541.8 775.4 536 790 533.8 797.8 531.9 799.7 527 828.8 524.1 873.4 516.4 900.5 512.5 925.8 512.5 933.5 506.7 940 506.8 949.7 503.9 982.7 497.1 1026.3 497.1 1027.3 492.2 1037 493.2 1038.9 499 1046.7 495.1 1079.7 491.2 1083.5 484.4 1088 483.5 1089 439.5 1098.6 432.8 1106.6 426.2 1114.6 418.2 1119.9 404.9 1125.2 396.9 1130 389 1130.1 387.1 1141.3 376 1152.4 370.4 1163.6 367.6 1169.1 376 1174.7 387.1 1178.9 401.1 1180 412.2 L1180 818 L40 818Z"/>
<path fill="#e27853" d="M40 815.5 44.9 814.1 53.3 814.1 53.9 812.5 67.2 812.5 67.8 811.7 72.1 811.7 72.7 809.6 95.8 809.6 96.4 808.8 137.5 808.8 138.9 806.3 162.1 806.3 162.7 805.2 167 805.2 167.6 801.9 175.1 801.9 175.7 800.2 192.3 800.2 192.9 799.8 193.7 798.1 211.1 798.1 211.7 797.8 212.7 797.8 213.3 797 234 797 235.4 795.4 242.7 795.4 243.3 794.8 265.6 794.8 266.2 791 272.1 791 272.7 789.9 277 789.9 277.6 787.9 285.2 787.9 285.8 787.1 304.8 787.1 305.4 786.1 324.4 786.1 325 785.5 332.6 785.5 333.2 781.2 344.1 781.2 344.7 779.2 367.8 779.2 368.4 773.5 376.8 773.5 377.4 771.9 387.4 771.9 388 767.5 402.9 767.5 403.5 764.9 416 764.9 416.6 761.3 426.6 761.3 427.2 756.7 440 756.7 444.9 753.9 453.1 752.3 459.6 749.7 475.2 749.3 482.5 744.9 505.4 744.4 507.1 743.1 521.8 741.5 547.9 740.4 564.3 738.7 568.4 736.3 593.7 735.9 597 733.3 611.7 731.8 640 730.1 662.9 729.2 668.6 724 679.2 722.7 692.3 721.9 703.8 719.1 726.7 718.1 728.3 717 746.3 715.4 752.8 710.9 764.3 709.6 765.9 705 774.1 701.8 795.4 700.6 801.1 696.5 816.6 694.6 856.4 692.7 867.8 691.9 874.3 689.1 890.7 687.8 900.5 685.4 903.8 687.5 916.9 686.2 925 688.6 933.2 682.6 938.1 683.2 949.6 680.4 964.3 678.3 982.3 678.3 983.9 675.5 993.7 674.4 1011.7 674.4 1015.8 673.4 1030 672.8 1038.2 672.8 1039.2 675.4 1042.6 675.4 1047 673.3 1054.2 672.1 1068.8 670.2 1080.4 669.4 1082.4 667 1088.2 666 1089.2 616.1 1094.5 615.4 1100.8 610.6 1113.3 604.3 1116.5 595.7 1122 587.8 1124.4 581.5 1127.5 583.9 1132.2 578.4 1137 573.6 1143.3 566.5 1151.1 565 1155.9 563.4 1163.7 563.4 1171.6 573.6 1176.3 581.5 1178.7 594.1 1179.8 602 1180 602 L1180 818 L40 818Z"/>
<path fill="#d0e4e4" d="M40 815.5 53.3 815.5 53.9 814.1 72.1 814.1 72.7 811.2 95.8 811.2 96.4 810.4 137.5 810.4 138.9 807.9 162.1 807.9 162.7 807.6 167 807.6 167.6 804.3 192.3 804.3 193.7 800.7 212.7 800.7 213.3 799.4 234.8 799.4 235.4 798.1 259.8 798 260.4 796.9 265.6 796.9 266.2 793.6 277 793.6 277.6 791.5 304.8 791.5 305.4 789.4 324.4 789.4 325 789.1 332.6 789.1 333.2 785.8 344.1 785.8 344.7 783.8 363.7 783.8 364.3 783.3 367.8 783.3 368.4 778.8 376.8 778.8 377.4 776.8 387.4 776.8 388 774.7 402.9 774.7 403.5 772.7 416 772.7 416.6 771.4 425.8 771.4 426.4 769.4 427.5 769.4 428.1 766.2 439.4 766.2 444.9 763.2 456.4 761.6 459.6 759.1 475.2 758.8 480.9 755.6 521.8 753.4 547.9 752.6 564.3 751 568.4 749.3 593.7 748.9 597 747.4 631.3 744.4 667 744.3 668.6 742.7 679.2 741.5 702.1 739.9 705.4 738.6 746.3 735.8 752.8 733.3 765.9 732.2 798.6 731.7 801.1 730.6 816.6 729.6 840 728.7 856.4 727.5 872.7 725.4 921.8 724.6 925 725.4 933.2 723 938.1 724.1 951.2 723.8 965.9 722.6 982.3 722.6 983.9 720.8 1011.7 720.8 1016.6 719.7 1026.4 718.9 1030 716.9 1038.7 717.4 1039.2 718.4 1054.2 717.9 1055.2 717.4 1080.4 716.4 1088.2 715.5 1089.2 666.5 1097.6 665.8 1108.6 658.7 1116.5 650.8 1122.8 639.8 1125.9 638.2 1130.7 640.5 1133.8 631.9 1148 624.8 1155.9 621.6 1163.7 617.7 1171.6 615.4 1180 608.3 L1180 818 L40 818Z"/>
<path fill="#d4ecd6" d="M40 815.8 138 814.8 139 810.5 300 809.5 600 807 751 804.5 857 801.6 931 799.3 1088 795.5 1089 744 1117.7 738 1138 730 1161.8 720 1175 721 1180 722 L1180 818 L40 818Z"/>
<path fill="#b0fca8" d="M40 816.8 138 816.6 139 815.5 177 815.5 178 813.8 285 813 286 811.3 563 811.2 590 810 600 810 667 808.7 751 807.5 804 805.4 947 803.4 984 802.2 1088 800.5 1089 764 1104 762 1117.7 757 1138 750 1161.8 746 1175 748 1180 750 L1180 818 L40 818Z"/>
<rect x="40" y="768" width="1140" height="1" fill="#000" fill-opacity="0.035"/>
<rect x="40" y="719" width="1140" height="1" fill="#000" fill-opacity="0.035"/>
<rect x="40" y="670" width="1140" height="1" fill="#000" fill-opacity="0.035"/>
<rect x="40" y="621" width="1140" height="1" fill="#000" fill-opacity="0.035"/>
<rect x="40" y="572" width="1140" height="1" fill="#000" fill-opacity="0.035"/>
<rect x="40" y="523" width="1140" height="1" fill="#000" fill-opacity="0.035"/>
<rect x="40" y="474" width="1140" height="1" fill="#000" fill-opacity="0.035"/>
<rect x="40" y="425" width="1140" height="1" fill="#000" fill-opacity="0.035"/>
<rect x="40" y="376" width="1140" height="1" fill="#000" fill-opacity="0.035"/>
<rect x="40" y="327" width="1140" height="1" fill="#000" fill-opacity="0.035"/>
<rect x="40" y="278" width="1140" height="1" fill="#000" fill-opacity="0.035"/>
<rect x="40" y="229" width="1140" height="1" fill="#000" fill-opacity="0.035"/>
<rect x="40" y="179" width="1140" height="1" fill="#000" fill-opacity="0.035"/>
<rect x="40" y="130" width="1140" height="1" fill="#000" fill-opacity="0.035"/>
<rect x="40" y="81" width="1140" height="1" fill="#000" fill-opacity="0.035"/>
<rect x="40" y="32" width="1140" height="1" fill="#000" fill-opacity="0.035"/>
</g>
<g font-size="12" fill="#000">
<text x="1183" y="821.5">0</text>
<text x="1183" y="772.5">50</text>
<text x="1183" y="723.5">100</text>
<text x="1183" y="674.5">150</text>
<text x="1183" y="625.5">200</text>
<text x="1183" y="576.5">250</text>
<text x="1183" y="527.5">300</text>
<text x="1183" y="478.5">350</text>
<text x="1183" y="429.5">400</text>
<text x="1183" y="380.5">450</text>
<text x="1183" y="331.5">500</text>
<text x="1183" y="282.5">550</text>
<text x="1183" y="233.5">600</text>
<text x="1183" y="183.5">650</text>
<text x="1183" y="134.5">700</text>
<text x="1183" y="85.5">750</text>
<text x="1183" y="36.5">800</text>
<text x="1183" y="23.5" font-weight="bold">813</text>
</g>
<defs><filter id="sh" x="-50%" y="-50%" width="200%" height="200%"><feGaussianBlur stdDeviation="1.5"/></filter></defs>
<g shape-rendering="geometricPrecision">
<g filter="url(#sh)" opacity="0.55"><line x1="1102.3" y1="38.7" x2="1125.0" y2="68.5" stroke="#333" stroke-width="1.8"/><polygon points="1132.3,78.0 1121.8,70.9 1128.2,66.0" fill="#333"/></g><line x1="1100.3" y1="36.7" x2="1123.6" y2="67.3" stroke="#ff0a84" stroke-width="1.8"/><polygon points="1130.3,76.0 1119.8,68.9 1126.2,64.0" fill="#ff0a84"/>
<g filter="url(#sh)" opacity="0.55"><line x1="1077.0" y1="126.9" x2="1083.4" y2="144.3" stroke="#333" stroke-width="1.8"/><polygon points="1087.5,155.6 1079.6,145.7 1087.1,143.0" fill="#333"/></g><line x1="1075.0" y1="124.9" x2="1081.7" y2="143.3" stroke="#ff0a84" stroke-width="1.8"/><polygon points="1085.5,153.6 1077.6,143.7 1085.1,141.0" fill="#ff0a84"/>
<g filter="url(#sh)" opacity="0.55"><line x1="960.0" y1="223.6" x2="950.5" y2="248.1" stroke="#333" stroke-width="1.8"/><polygon points="946.2,259.3 946.8,246.7 954.3,249.5" fill="#333"/></g><line x1="958.0" y1="221.6" x2="948.2" y2="247.0" stroke="#ff0a84" stroke-width="1.8"/><polygon points="944.2,257.3 944.8,244.7 952.3,247.5" fill="#ff0a84"/>
<g filter="url(#sh)" opacity="0.55"><line x1="1072.8" y1="634.8" x2="1073.2" y2="658.5" stroke="#333" stroke-width="1.8"/><polygon points="1073.4,670.5 1069.2,658.6 1077.2,658.4" fill="#333"/></g><line x1="1070.8" y1="632.8" x2="1071.2" y2="657.5" stroke="#ff0a84" stroke-width="1.8"/><polygon points="1071.4,668.5 1067.2,656.6 1075.2,656.4" fill="#ff0a84"/>
<g filter="url(#sh)" opacity="0.55"><line x1="1164.4" y1="646.8" x2="1173.4" y2="623.9" stroke="#333" stroke-width="1.8"/><polygon points="1177.8,612.7 1177.1,625.3 1169.7,622.4" fill="#333"/></g><line x1="1162.4" y1="644.8" x2="1171.8" y2="620.9" stroke="#ff0a84" stroke-width="1.8"/><polygon points="1175.8,610.7 1175.1,623.3 1167.7,620.4" fill="#ff0a84"/>
<rect x="1030.0" y="17.2" width="73.7" height="18.3" fill="#fff" stroke="#ff0000" stroke-width="2"/><text x="1066.8" y="30.9" text-anchor="middle" font-size="12" fill="#ff0000" textLength="58.7" lengthAdjust="spacingAndGlyphs">July 1, 2018</text>
<rect x="961.4" y="76.8" width="114.9" height="47.1" fill="#fff" stroke="#ff0000" stroke-width="2"/><text x="1018.8" y="90.3" text-anchor="middle" font-size="12" fill="#ff0000" textLength="102.3" lengthAdjust="spacingAndGlyphs">Proposals introduced</text><text x="1018.8" y="102.9" text-anchor="middle" font-size="12" fill="#ff0000" textLength="62.9" lengthAdjust="spacingAndGlyphs">to matrix-doc</text><text x="1018.8" y="115.6" text-anchor="middle" font-size="12" fill="#ff0000" textLength="73.2" lengthAdjust="spacingAndGlyphs">(May 10, 2018)</text>
<rect x="949.1" y="174.2" width="122.6" height="46.4" fill="#fff" stroke="#ff0000" stroke-width="2"/><text x="1010.4" y="187.7" text-anchor="middle" font-size="12" fill="#ff0000" textLength="87.2" lengthAdjust="spacingAndGlyphs">Projects moved to</text><text x="1010.4" y="200.3" text-anchor="middle" font-size="12" fill="#ff0000" textLength="73.2" lengthAdjust="spacingAndGlyphs">matrix.org repo</text><text x="1010.4" y="213.0" text-anchor="middle" font-size="12" fill="#ff0000" textLength="66.0" lengthAdjust="spacingAndGlyphs">(Nov 6, 2017)</text>
<rect x="979.3" y="598.9" width="103.5" height="32.9" fill="#fff" stroke="#ff0000" stroke-width="2"/><text x="1031.0" y="611.8" text-anchor="middle" font-size="12" fill="#ff0000" textLength="69.6" lengthAdjust="spacingAndGlyphs">About 50 spec</text><text x="1031.0" y="623.9" text-anchor="middle" font-size="12" fill="#ff0000" textLength="48.4" lengthAdjust="spacingAndGlyphs">omissions</text>
<rect x="1136.2" y="645.1" width="82.4" height="32.4" fill="#fff" stroke="#ff0000" stroke-width="2"/><text x="1177.4" y="658.9" text-anchor="middle" font-size="12" fill="#ff0000" textLength="63.6" lengthAdjust="spacingAndGlyphs">Only 20 spec</text><text x="1177.4" y="670.6" text-anchor="middle" font-size="12" fill="#ff0000" textLength="60.5" lengthAdjust="spacingAndGlyphs">ommissions!</text>
</g>
</svg>
</body></html>
